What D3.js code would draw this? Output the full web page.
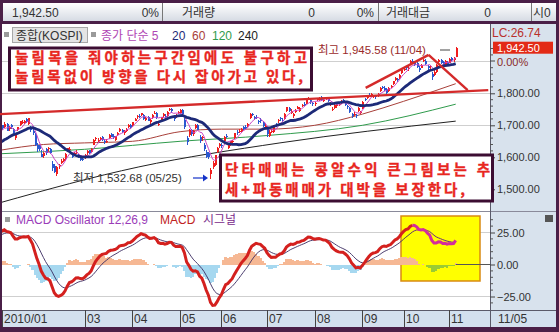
<!DOCTYPE html>
<html>
<head>
<meta charset="utf-8">
<script src="https://cdn.jsdelivr.net/npm/d3@7"></script>
<style>
  body { margin: 0; background: #fff; }
  svg { display: block; font-family: "Liberation Sans", "Noto Sans CJK KR", sans-serif; }
  .kr { font-family: "Noto Sans CJK KR", sans-serif; }
</style>
</head>
<body>
<svg width="559" height="332"></svg>
<script>
// closes before the visible window (Nov-Dec 2009), only used to warm up MA / MACD
const warmupCloses = [1544,1548,1573,1560,1569,1571,1575,1588,1580,1571,1589,1600,1610,1592,1580,1599,1584,1592,1575,1525,1556,
  1567,1591,1602,1610,1622,1612,1604,1605,1631,1643,1652,1652,1652,1651,1648,1656,1665,1674,1679,1677,1683];

// daily [open, high, low, close]
const jan10 = [[1681,1696,1681,1696],[1701,1702,1686,1691],[1695,1709,1693,1705],[1704,1706,1681,1683],[1689,1698,1683,1695],
  [1702,1704,1688,1694],[1690,1693,1670,1671],[1660,1675,1654,1672],[1685,1696,1683,1696],[1700,1713,1698,1713],
  [1708,1716,1704,1711],[1707,1716,1703,1714],[1719,1724,1708,1711],[1704,1723,1700,1722],[1690,1697,1680,1684],
  [1683,1690,1670,1677],[1672,1675,1636,1637],[1640,1646,1618,1625],[1637,1640,1620,1625],[1610,1623,1600,1602]];
const feb10 = [[1603,1617,1597,1615],[1625,1628,1606,1613],[1625,1633,1618,1628],[1625,1630,1611,1615],[1580,1588,1558,1567],
  [1574,1578,1552,1553],[1547,1572,1541,1570],[1572,1580,1565,1577],[1582,1594,1578,1590],[1590,1598,1585,1595],
  [1594,1612,1590,1610],[1620,1630,1617,1628],[1626,1632,1618,1627],[1605,1612,1598,1603],[1612,1618,1606,1613],
  [1612,1622,1610,1618],[1605,1611,1597,1603],[1603,1608,1588,1592],[1596,1603,1590,1595]];
const mar10 = [[1602,1610,1596,1608],[1612,1622,1607,1620],[1622,1624,1610,1615],[1617,1630,1612,1627],[1640,1657,1638,1655],
  [1660,1664,1652,1660],[1655,1660,1648,1655],[1656,1663,1650,1660],[1664,1666,1652,1655],[1652,1656,1642,1650],
  [1647,1656,1644,1652],[1660,1672,1658,1670],[1672,1675,1662,1665],[1666,1673,1658,1662],[1655,1668,1652,1666],
  [1670,1678,1668,1676],[1682,1692,1680,1690],[1684,1688,1675,1680],[1676,1684,1670,1681],[1683,1692,1680,1690],
  [1695,1703,1692,1701],[1700,1704,1690,1693]];
const apr10 = [[1697,1710,1695,1709],[1715,1722,1712,1720],[1725,1732,1720,1729],[1730,1734,1722,1728],[1731,1740,1728,1737],
  [1732,1735,1716,1720],[1716,1726,1712,1723],[1727,1730,1712,1714],[1709,1720,1705,1717],[1722,1735,1720,1732],
  [1738,1746,1735,1740],[1737,1741,1720,1722],[1702,1712,1697,1704],[1712,1726,1710,1725],[1730,1737,1727,1735],
  [1730,1734,1722,1728],[1728,1744,1726,1742],[1748,1755,1745,1752],[1750,1753,1740,1745],[1725,1732,1715,1720],
  [1728,1736,1724,1731],[1738,1746,1735,1742]];
const may10 = [[1740,1752,1736,1749],[1748,1750,1730,1734],[1718,1722,1690,1694],[1660,1668,1640,1648],[1670,1688,1665,1685],
  [1684,1690,1668,1672],[1672,1686,1668,1683],[1693,1704,1690,1701],[1700,1704,1684,1686],[1665,1670,1645,1651],
  [1660,1668,1652,1665],[1640,1645,1620,1625],[1618,1624,1598,1600],[1612,1618,1595,1600],[1548,1566,1533,1561],
  [1570,1590,1562,1583],[1575,1608,1572,1606],[1618,1632,1615,1630],[1636,1645,1630,1641]];
const jun10 = [[1640,1645,1628,1636],[1650,1666,1648,1664],[1668,1672,1660,1664],[1630,1640,1625,1637],[1640,1652,1636,1651],
  [1650,1655,1642,1652],[1660,1676,1658,1675],[1680,1684,1670,1677],[1680,1688,1676,1682],[1680,1692,1675,1690],
  [1695,1698,1685,1690],[1694,1700,1688,1693],[1698,1706,1695,1703],[1722,1737,1720,1735],[1736,1740,1728,1733],
  [1725,1730,1716,1720],[1726,1732,1720,1725],[1712,1718,1705,1711],[1718,1722,1708,1713],[1710,1712,1696,1698],
  [1692,1703,1688,1698]];
const jul10 = [[1690,1692,1665,1672],[1668,1684,1664,1679],[1682,1690,1676,1682],[1678,1702,1676,1700],[1703,1708,1695,1698],
  [1712,1720,1708,1718],[1722,1726,1714,1719],[1716,1722,1710,1715],[1720,1738,1718,1736],[1745,1758,1743,1756],
  [1754,1758,1742,1745],[1738,1750,1735,1746],[1728,1738,1724,1736],[1742,1750,1738,1748],[1752,1760,1750,1758],
  [1746,1756,1743,1753],[1760,1768,1758,1764],[1766,1772,1760,1763],[1768,1780,1766,1778],[1783,1790,1778,1784],
  [1780,1782,1768,1773],[1770,1774,1760,1767]];
const aug10 = [[1768,1772,1760,1770],[1778,1786,1775,1783],[1780,1788,1776,1785],[1790,1792,1776,1780],[1776,1784,1772,1779],
  [1784,1790,1780,1788],[1785,1787,1772,1776],[1770,1774,1760,1770],[1748,1758,1745,1752],[1755,1766,1752,1763],
  [1760,1768,1754,1766],[1762,1772,1760,1768],[1772,1778,1768,1774],[1780,1783,1772,1779],[1770,1772,1760,1764],
  [1760,1765,1752,1759],[1755,1757,1740,1743],[1735,1738,1722,1729],[1735,1742,1730,1736],[1732,1736,1724,1730],
  [1745,1756,1742,1754],[1740,1746,1736,1743]];
const sep10 = [[1752,1776,1750,1774],[1782,1786,1776,1780],[1784,1794,1782,1791],[1796,1802,1792,1795],[1797,1802,1792,1797],
  [1790,1795,1784,1791],[1794,1796,1782,1788],[1792,1800,1788,1797],[1806,1820,1804,1817],[1820,1824,1812,1817],
  [1818,1822,1806,1811],[1812,1816,1798,1802],[1806,1820,1804,1818],[1820,1826,1816,1822],[1830,1840,1826,1838],
  [1842,1850,1838,1847],[1846,1848,1836,1842],[1848,1860,1846,1858],[1862,1875,1860,1873]];
const oct10 = [[1876,1882,1870,1877],[1882,1886,1874,1880],[1876,1884,1870,1878],[1890,1903,1888,1900],[1902,1906,1892,1897],
  [1896,1900,1884,1890],[1895,1898,1880,1883],[1880,1884,1866,1872],[1880,1892,1878,1890],[1900,1908,1898,1903],
  [1902,1906,1888,1893],[1885,1890,1874,1880],[1882,1890,1876,1884],[1860,1866,1842,1850],[1858,1872,1855,1868],
  [1866,1892,1864,1890],[1898,1908,1894,1905],[1904,1906,1892,1896],[1898,1900,1882,1886],[1888,1904,1886,1902],
  [1898,1900,1886,1893]];
const nov10 = [[1896,1910,1894,1908],[1910,1914,1900,1905],[1904,1914,1898,1910],[1915,1946,1913,1942]];

const monthStarts = [0, 39, 61, 83, 102, 123, 145, 167, 186, 207];
const monthLabels = ["2010/01", "03", "04", "05", "06", "07", "08", "09", "10", "11"];

// longer moving averages: [day index, value]
const ma60Pts = [[0,1622],[20,1640],[39,1645],[61,1650],[83,1680],[102,1688],[123,1688],[145,1700],[167,1735],[186,1775],[210,1830]];
const ma120Pts = [[0,1611],[39,1625],[83,1650],[123,1668],[167,1700],[210,1766]];
const ma240Pts = [[0,1458],[64,1570],[129,1645],[210,1713]];

// hand drawn trend lines: [day index, price]
const trendLong = [[0,1735],[225,1810]];
const trendUp = [[168.5,1817],[197.5,1920]];
const trendDown = [[197.5,1920],[215.5,1810]];

const priceTicks = [1500, 1600, 1700, 1800];
const macdTicks = [-25, 0, 25];

const ohlc = [].concat(jan10, feb10, mar10, apr10, may10, jun10, jul10, aug10, sep10, oct10, nov10);
const closes = ohlc.map(d => d[3]);
const allCloses = warmupCloses.concat(closes);
const off = warmupCloses.length;

function sma(n){
  return closes.map((c, i) => d3.mean(allCloses.slice(i + off - n + 1, i + off + 1)));
}
function ema(arr, n){
  const k = 2 / (n + 1);
  let e = arr[0];
  return arr.map(v => (e = v * k + e * (1 - k)));
}
const e12 = ema(allCloses, 12), e26 = ema(allCloses, 26);
const macdAll = e12.map((v, i) => v - e26[i]);
const sigAll = ema(macdAll, 9);
const macd = macdAll.slice(off), signal = sigAll.slice(off);
const osc = macd.map((v, i) => v - signal[i]);
const ma5 = sma(5), ma20 = sma(20);

const svg = d3.select("svg");
const plotL = 2, plotR = 490, priceTop = 24, priceBot = 211, macdTop = 212, macdBot = 310, axisBot = 327;

const x = d3.scaleLinear().domain([0, 225.8]).range([0, 490]);
const y = d3.scaleLinear().domain([1500, 1800]).range([189.3, 93.3]);
const ym = d3.scaleLinear().domain([-25, 25]).range([296.5, 232.5]);

const defs = svg.append("defs");
const tg = defs.append("linearGradient").attr("id", "topg").attr("x1", 0).attr("y1", 0).attr("x2", 0).attr("y2", 1);
tg.append("stop").attr("offset", "0%").attr("stop-color", "#ffffff");
tg.append("stop").attr("offset", "100%").attr("stop-color", "#d6dbe4");
defs.append("clipPath").attr("id", "cp").append("rect")
  .attr("x", plotL).attr("y", priceTop).attr("width", plotR - plotL).attr("height", priceBot - priceTop);
defs.append("clipPath").attr("id", "cm").append("rect")
  .attr("x", plotL).attr("y", macdTop).attr("width", plotR - plotL).attr("height", macdBot - macdTop);

// frame and panels
svg.append("rect").attr("width", 559).attr("height", 332).attr("fill", "#4a1f47");
svg.append("rect").attr("x", 3).attr("y", 3).attr("width", 553).attr("height", 18).attr("fill", "url(#topg)");
svg.append("rect").attr("x", plotL).attr("y", priceTop).attr("width", plotR - plotL).attr("height", macdBot - priceTop).attr("fill", "#fff");
svg.append("rect").attr("x", plotR).attr("y", priceTop).attr("width", 556 - plotR).attr("height", macdBot - priceTop).attr("fill", "#d8e2ed");
svg.append("rect").attr("x", plotL).attr("y", macdBot).attr("width", 554).attr("height", axisBot - macdBot).attr("fill", "#d3e0ee");
svg.append("line").attr("x1", plotL).attr("x2", 556).attr("y1", macdBot + 0.5).attr("y2", macdBot + 0.5).attr("stroke", "#5a5a6a");
svg.append("line").attr("x1", plotL).attr("x2", 556).attr("y1", macdTop - 0.5).attr("y2", macdTop - 0.5).attr("stroke", "#8a8a9a");
svg.append("line").attr("x1", plotR + 0.5).attr("x2", plotR + 0.5).attr("y1", priceTop).attr("y2", axisBot).attr("stroke", "#5a5a6a");

// top info bar
const infoBar = svg.append("g").attr("font-size", 12).attr("fill", "#333");
[162, 378, 531].forEach(sx => infoBar.append("line").attr("x1", sx + 0.5).attr("x2", sx + 0.5).attr("y1", 3).attr("y2", 21).attr("stroke", "#777"));
[["1,942.50", 12, "start"], ["0%", 159, "end"], ["거래량", 182, "start"], ["0", 315, "end"], ["0%", 374, "end"],
 ["거래대금", 386, "start"], ["0", 491, "end"], ["시0", 533, "start"]].forEach(t =>
  infoBar.append("text").attr("x", t[1]).attr("y", 16.5).attr("text-anchor", t[2]).attr("fill", "#333").text(t[0]));

// grid
const grid = svg.append("g").attr("stroke", "#cfcfcf").attr("shape-rendering", "crispEdges");
[1500, 1600, 1700, 1800, 1900].forEach(v => grid.append("line").attr("x1", plotL).attr("x2", plotR).attr("y1", y(v)).attr("y2", y(v)));
[-25, 25].forEach(v => grid.append("line").attr("x1", plotL).attr("x2", plotR).attr("y1", ym(v)).attr("y2", ym(v)));

// price panel
const gp = svg.append("g").attr("clip-path", "url(#cp)");
const ptLine = d3.line().curve(d3.curveMonotoneX).x(d => x(d[0])).y(d => y(d[1]));
gp.append("path").attr("d", ptLine(ma240Pts)).attr("fill", "none").attr("stroke", "#222").attr("stroke-width", 1);
gp.append("path").attr("d", ptLine(ma120Pts)).attr("fill", "none").attr("stroke", "#2f9b4c").attr("stroke-width", 1);
gp.append("path").attr("d", ptLine(ma60Pts)).attr("fill", "none").attr("stroke", "#a8403a").attr("stroke-width", 1);

const upC = "#f01e1e", dnC = "#2a58d0";
const cg = gp.append("g").attr("shape-rendering", "crispEdges");
cg.selectAll("line").data(ohlc).join("line")
  .attr("x1", (d, i) => Math.round(x(i)) + 0.5).attr("x2", (d, i) => Math.round(x(i)) + 0.5)
  .attr("y1", d => y(d[1])).attr("y2", d => y(d[2]))
  .attr("stroke", d => d[3] >= d[0] ? upC : dnC);
cg.selectAll("rect").data(ohlc).join("rect")
  .attr("x", (d, i) => Math.round(x(i)) - 0.5).attr("width", 2)
  .attr("y", d => y(Math.max(d[0], d[3]))).attr("height", d => Math.max(1, Math.abs(y(d[0]) - y(d[3]))))
  .attr("fill", d => d[3] >= d[0] ? upC : dnC);

const idxLine = d3.line().x((d, i) => x(i)).y(d => y(d));
gp.append("path").attr("d", idxLine(ma5)).attr("fill", "none").attr("stroke", "#cc44c4").attr("stroke-width", 1);
gp.append("path").attr("d", idxLine(ma20)).attr("fill", "none").attr("stroke", "#1d2a78").attr("stroke-width", 2.8);

const trendLine = d3.line().x(d => x(d[0])).y(d => y(d[1]));
[trendLong, trendUp, trendDown].forEach(t =>
  svg.append("path").attr("d", trendLine(t)).attr("fill", "none").attr("stroke", "#d42a2a").attr("stroke-width", 2.4));

// legend row
const lg = svg.append("g").attr("font-size", 12);
lg.append("rect").attr("x", 4).attr("y", 32).attr("width", 5).attr("height", 5).attr("fill", "#9a9a9a");
lg.append("rect").attr("x", 12.5).attr("y", 27.5).attr("width", 75).attr("height", 15).attr("fill", "#e4e4e4").attr("stroke", "#a8a8a8");
lg.append("text").attr("x", 16).attr("y", 40).attr("fill", "#333").text("종합(KOSPI)");
lg.append("rect").attr("x", 91).attr("y", 32).attr("width", 5).attr("height", 5).attr("fill", "#9a9a9a");
[["종가 단순 5", 101, "#b046b4"], ["20", 172, "#1d2a78"], ["60", 192, "#a8403a"], ["120", 212, "#2f9b4c"], ["240", 238, "#222"]]
  .forEach(t => lg.append("text").attr("x", t[1]).attr("y", 40).attr("fill", t[2]).text(t[0]));

// price axis
const pa = svg.append("g").attr("transform", `translate(${plotR},0)`)
  .call(d3.axisRight(y).tickValues(priceTicks).tickSize(5).tickPadding(2).tickFormat(d3.format(",.2f")));
pa.select(".domain").remove();
pa.selectAll("text").attr("font-size", 11).attr("fill", "#333").attr("font-family", "Liberation Sans");
pa.selectAll(".tick line").attr("stroke", "#444");
const minor = d3.range(1480, 1960, 20).filter(v => v % 100 !== 0);
svg.append("g").selectAll("line").data(minor).join("line")
  .attr("x1", plotR).attr("x2", plotR + 3).attr("y1", d => y(d)).attr("y2", d => y(d)).attr("stroke", "#555");
svg.append("text").attr("x", 492).attr("y", 37).attr("font-size", 12).attr("fill", "#b8302c").text("LC:26.74");
svg.append("rect").attr("x", 493).attr("y", y(1942.5) - 6).attr("width", 60).attr("height", 12).attr("fill", "#e32a16");
svg.append("text").attr("x", 497).attr("y", y(1942.5) + 4).attr("font-size", 11).attr("fill", "#fff").text("1,942.50");
svg.append("line").attr("x1", plotR).attr("x2", plotR + 5).attr("y1", 61).attr("y2", 61).attr("stroke", "#444");
svg.append("text").attr("x", 497).attr("y", 66).attr("font-size", 11).attr("fill", "#8a2a2a").text("0.00%");

// annotations on price panel
svg.append("text").attr("x", 318).attr("y", 54).attr("font-size", 11.5).attr("fill", "#9a2a2a").text("최고 1,945.58 (11/04)");
svg.append("line").attr("x1", 440).attr("x2", 450).attr("y1", 50).attr("y2", 50).attr("stroke", "#444");
svg.append("text").attr("x", 73).attr("y", 182).attr("font-size", 11.5).attr("fill", "#333").text("최저 1,532.68 (05/25)");
svg.append("line").attr("x1", 193).attr("x2", 204).attr("y1", 178).attr("y2", 178).attr("stroke", "#1433c8").attr("stroke-width", 1.2);
svg.append("path").attr("d", "M203,174.5L208,178L203,181.5Z").attr("fill", "#1433c8");

function note(bx, by, bw, bh, lines){
  svg.append("rect").attr("x", bx).attr("y", by).attr("width", bw).attr("height", bh)
    .attr("fill", "#fff").attr("stroke", "#3c0d32").attr("stroke-width", 3);
  lines.forEach(l => svg.append("text").attr("class", "kr").attr("x", l[1]).attr("y", l[2])
    .attr("font-size", 14.5).attr("font-weight", "bold").attr("fill", "#e8261e")
    .attr("stroke", "#e8261e").attr("stroke-width", 0.35)
    .attr("textLength", l[3]).attr("lengthAdjust", "spacing").text(l[0]));
}
note(9.5, 48, 302, 42, [["눌림목을 줘야하는구간임에도 불구하고", 15, 62.5, 292], ["눌림목없이 방향을 다시 잡아가고 있다,", 15, 82, 288]]);
note(220.5, 155, 272, 46, [["단타매매는 콩알수익 큰그림보는 추", 225, 175, 265], ["세+파동매매가 대박을 보장한다,", 225, 194.5, 240]]);

// MACD panel
const gm = svg.append("g").attr("clip-path", "url(#cm)");
const boxStart = 186, magStart = 190;
gm.append("rect").attr("x", 401).attr("y", 216).attr("width", 79).attr("height", 65)
  .attr("fill", "#ffff00").attr("stroke", "#d98a12").attr("stroke-width", 1.5);
gm.append("g").attr("shape-rendering", "crispEdges").selectAll("rect").data(osc).join("rect")
  .attr("x", (d, i) => x(i) - 1.2).attr("width", 2.5)
  .attr("y", d => ym(Math.max(0, d))).attr("height", d => Math.abs(ym(d) - ym(0)))
  .attr("fill", (d, i) => d >= 0 ? "#f6b894" : (i >= boxStart + 4 ? "#9acb34" : "#a6d8f0"));
gm.append("line").attr("x1", x(closes.length - 1)).attr("x2", plotR).attr("y1", ym(0)).attr("y2", ym(0)).attr("stroke", "#555");
const mLine = d3.line().x(d => x(d[0])).y(d => ym(d[1]));
const sigPts = signal.map((v, i) => [i, v]), macdPts = macd.map((v, i) => [i, v]);
gm.append("path").attr("d", mLine(sigPts.slice(0, magStart + 1))).attr("fill", "none").attr("stroke", "#3a2a60").attr("stroke-width", 0.9);
gm.append("path").attr("d", mLine(sigPts.slice(magStart))).attr("fill", "none").attr("stroke", "#6a2a80").attr("stroke-width", 1);
gm.append("path").attr("d", mLine(macdPts.slice(0, magStart + 1))).attr("fill", "none").attr("stroke", "#d4201e").attr("stroke-width", 3);
gm.append("path").attr("d", mLine(macdPts.slice(magStart))).attr("fill", "none").attr("stroke", "#d42c9c").attr("stroke-width", 3);

const ml = svg.append("g").attr("font-size", 12);
ml.append("rect").attr("x", 5).attr("y", 217).attr("width", 5).attr("height", 5).attr("fill", "#9a9a9a");
ml.append("text").attr("x", 16).attr("y", 224).attr("fill", "#9a3cb8").text("MACD Oscillator 12,26,9");
ml.append("text").attr("x", 160).attr("y", 224).attr("fill", "#c0221e").text("MACD");
ml.append("text").attr("x", 203).attr("y", 224).attr("fill", "#7a2a8a").text("시그널");

const mAxis = svg.append("g").attr("transform", `translate(${plotR},0)`)
  .call(d3.axisRight(ym).tickValues(macdTicks).tickSize(5).tickPadding(2).tickFormat(d3.format(",.2f")));
mAxis.select(".domain").remove();
mAxis.selectAll("text").attr("font-size", 11).attr("fill", "#333").attr("font-family", "Liberation Sans");
mAxis.selectAll(".tick line").attr("stroke", "#444");
svg.append("g").selectAll("line").data(d3.range(-30, 40, 5).filter(v => v % 25 !== 0)).join("line")
  .attr("x1", plotR).attr("x2", plotR + 3).attr("y1", d => ym(d)).attr("y2", d => ym(d)).attr("stroke", "#555");
svg.append("rect").attr("x", 545).attr("y", 215).attr("width", 8).attr("height", 7).attr("fill", "#555");

// time axis
const xa = svg.append("g").attr("font-size", 12).attr("fill", "#333");
monthStarts.forEach((m, i) => {
  const px = Math.max(plotL + 0.5, Math.round(x(m)) + 0.5);
  xa.append("line").attr("x1", px).attr("x2", px).attr("y1", macdBot).attr("y2", axisBot).attr("stroke", "#444");
  xa.append("text").attr("x", px + 1.5).attr("y", 323).text(monthLabels[i]);
});
xa.append("text").attr("x", 498).attr("y", 323).text("11/05");
</script>
</body>
</html>
